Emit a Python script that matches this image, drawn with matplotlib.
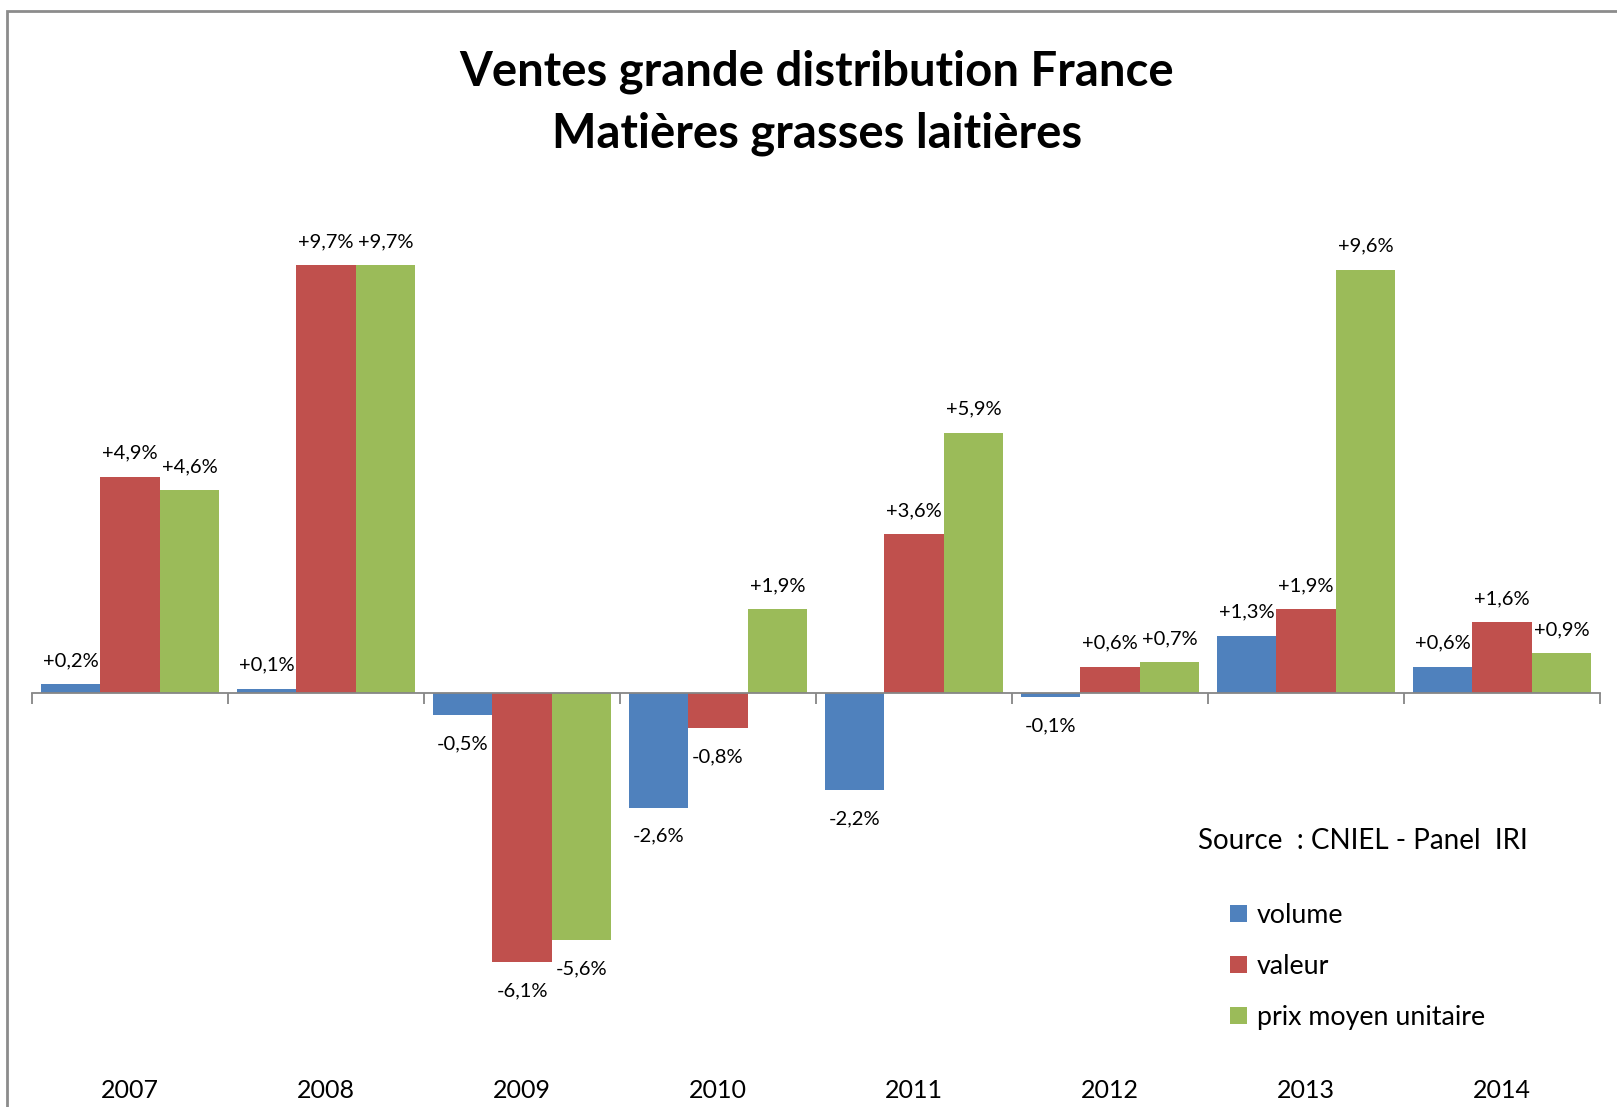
import matplotlib
matplotlib.use("Agg")
import matplotlib.pyplot as plt
from matplotlib.patches import Rectangle
from matplotlib.ticker import FixedLocator, NullFormatter
import matplotlib.transforms as mtransforms
import numpy as np

plt.rcParams["font.family"] = ["Lato", "DejaVu Sans"]

years = ["2007", "2008", "2009", "2010", "2011", "2012", "2013", "2014"]
volume = [0.2, 0.1, -0.5, -2.6, -2.2, -0.1, 1.3, 0.6]
valeur = [4.9, 9.7, -6.1, -0.8, 3.6, 0.6, 1.9, 1.6]
prix = [4.6, 9.7, -5.6, 1.9, 5.9, 0.7, 9.6, 0.9]
series_names = ["volume", "valeur", "prix moyen unitaire"]
colors = ["#4F81BD", "#C0504D", "#9BBB59"]

title = "Ventes grande distribution France\nMatières grasses laitières"
source = "Source  : CNIEL - Panel  IRI"

W, H = 1617, 1107
fig = plt.figure(figsize=(W / 100, H / 100), dpi=100)

# plot area in pixels
ax_left, ax_right = 32, 1600
ax_top, ax_bottom = 207, 1045
zero_px, unit_px = 693, 44.1
ax = fig.add_axes([ax_left / W, 1 - ax_bottom / H,
                   (ax_right - ax_left) / W, (ax_bottom - ax_top) / H])
ax.set_xlim(0, len(years))
ax.set_ylim(-(ax_bottom - zero_px) / unit_px, (zero_px - ax_top) / unit_px)

x = np.arange(len(years)) + 0.5
width = 1 / 3.3
offsets = [-width, 0, width]
all_series = [volume, valeur, prix]

for vals, name, col, off in zip(all_series, series_names, colors, offsets):
    bars = ax.bar(x + off, vals, width=width, color=col, label=name, linewidth=0)
    for b, v in zip(bars, vals):
        txt = f"{v:+.1f}%".replace(".", ",")
        ax.annotate(txt, (b.get_x() + b.get_width() / 2, v),
                    xytext=(0, 17 if v >= 0 else -20.5), textcoords="offset points",
                    ha="center", va="center", fontsize=14.5, color="black")

# category axis on the zero line with boundary ticks
for s in ["top", "right", "left"]:
    ax.spines[s].set_visible(False)
ax.spines["bottom"].set_position(("data", 0))
ax.spines["bottom"].set_color("#868686")
ax.spines["bottom"].set_linewidth(1.3)
ax.set_yticks([])
ax.xaxis.set_major_locator(FixedLocator(x))
ax.xaxis.set_major_formatter(NullFormatter())
ax.xaxis.set_minor_locator(FixedLocator(np.arange(len(years) + 1)))
ax.tick_params(axis="x", which="major", length=0)
ax.tick_params(axis="x", which="minor", length=8, width=1.3, color="#868686",
               direction="out")

# year labels at the bottom of the plot area
trans = mtransforms.blended_transform_factory(ax.transData, ax.transAxes)
for xi, yr in zip(x, years):
    ax.text(xi, -(1091 - ax_bottom) / (ax_bottom - ax_top), yr, transform=trans,
            ha="center", va="center", fontsize=18, color="black")

# title
fig.text(817 / W, 1 - 103 / H, title, ha="center", va="center",
         fontsize=34, fontweight="bold", linespacing=1.5)

# source note and legend
fig.text(1198 / W, 1 - 841 / H, source, ha="left", va="center", fontsize=20)
fig.legend(loc="upper left", bbox_to_anchor=(1230 / W, 1 - 903 / H),
           frameon=False, fontsize=19.3, handlelength=0.64, handleheight=0.64,
           handletextpad=0.37, labelspacing=0.97, borderpad=0, borderaxespad=0)

# chart frame (top and left edges visible)
fig.add_artist(Rectangle((7 / W, -0.2), 1.5, 1.2 - 11 / H,
                         transform=fig.transFigure, fill=False,
                         edgecolor="#8c8c8c", linewidth=2))

fig.savefig("out.png", dpi=100)
